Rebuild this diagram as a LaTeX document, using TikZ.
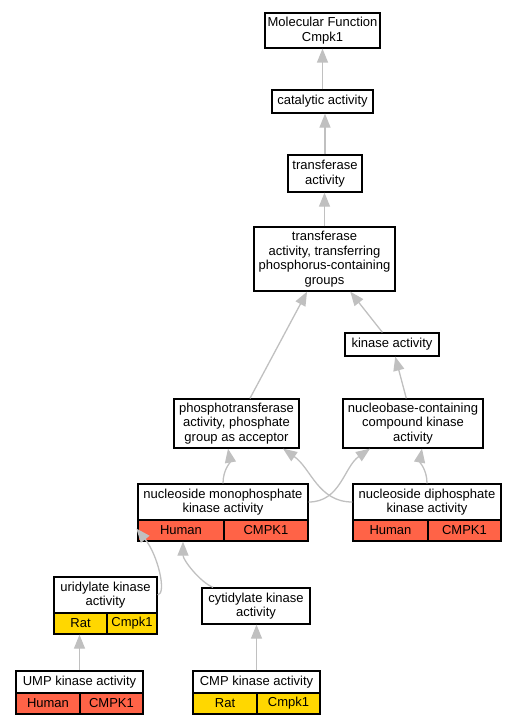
\documentclass[tikz,border=0pt]{standalone}
\usepackage{fontspec}
\setmainfont{Liberation Sans}
\usetikzlibrary{arrows.meta}

\definecolor{humanred}{RGB}{255,99,71}
\definecolor{ratgold}{RGB}{255,215,0}
\definecolor{edgegray}{RGB}{192,192,192}

\tikzset{
  term/.style={draw, fill=white, line width=1.3pt, align=center, inner sep=0pt,
    font=\fontsize{13}{14.5}\selectfont},
  cell/.style={term, minimum height=21pt},
  human/.style={cell, fill=humanred},
  rat/.style={cell, fill=ratgold},
  isa/.style={draw=edgegray, line width=1.3pt,
    -{Triangle[length=14pt,width=11pt,fill=edgegray]}}
}

\begin{document}
\begin{tikzpicture}[x=1pt,y=-1pt]
			\useasboundingbox (0,0) rectangle (516,725);

			% GO terms
			\node[term, minimum width=115pt, minimum height=35pt] (mf) at (322.5,30.5) {Molecular Function\\Cmpk1};
			\node[term, minimum width=101pt, minimum height=23pt] (cat) at (322.5,101.5) {catalytic activity};
			\node[term, minimum width=74pt, minimum height=37pt] (trans) at (325,173.5) {transferase\\activity};
			\node[term, minimum width=141pt, minimum height=64pt] (tpc) at (324.5,259) {transferase\\activity, transferring\\phosphorus-containing\\groups};
			\node[term, minimum width=94pt, minimum height=23pt] (kin) at (392,344.5) {kinase activity};
			\node[term, minimum width=125pt, minimum height=49pt] (pta) at (236.5,423.5) {phosphotransferase\\activity, phosphate\\group as acceptor};
			\node[term, minimum width=140pt, minimum height=49pt] (nbc) at (413,423.5) {nucleobase-containing\\compound kinase\\activity};
			\node[term, minimum width=108pt, minimum height=36pt] (cyt) at (256,606) {cytidylate kinase\\activity};

			% terms with gene products
			\node[term, minimum width=170pt, minimum height=36pt] (nmp) at (223,502) {nucleoside monophosphate\\kinase activity};
			\node[human, minimum width=86pt] (nmph) at (181,530.5) {Human};
			\node[human, minimum width=84pt] (nmpg) at (266,530.5) {CMPK1};

			\node[term, minimum width=148pt, minimum height=36pt] (ndp) at (427,502) {nucleoside diphosphate\\kinase activity};
			\node[human, minimum width=75pt] (ndph) at (390.5,530.5) {Human};
			\node[human, minimum width=73pt] (ndpg) at (464.5,530.5) {CMPK1};

			\node[term, minimum width=103pt, minimum height=36pt] (uri) at (105.5,595) {uridylate kinase\\activity};
			\node[rat, minimum width=53pt] (urir) at (80.5,623.5) {Rat};
			\node[rat, minimum width=50pt] (urig) at (132,623.5) {Cmpk1};

			\node[term, minimum width=127pt, minimum height=22pt] (ump) at (79.5,682) {UMP kinase activity};
			\node[human, minimum width=64pt] (umph) at (48,703.5) {Human};
			\node[human, minimum width=63pt] (umpg) at (111.5,703.5) {CMPK1};

			\node[term, minimum width=127pt, minimum height=22pt] (cmp) at (256.5,682) {CMP kinase activity};
			\node[rat, minimum width=64pt] (cmpr) at (225,703.5) {Rat};
			\node[rat, minimum width=63pt] (cmpg) at (288.5,703.5) {Cmpk1};

			% is_a edges
			\draw[isa] (cat) -- (mf);
			\draw[isa] (trans.north) -- (trans.north |- cat.south);
			\draw[isa] (tpc.north) -- (tpc.north |- trans.south);
			\draw[isa] (pta) -- (tpc);
			\draw[isa] (kin) -- (tpc);
			\draw[isa] (nbc) -- (kin);
			\draw[isa] (nmp.north) to[out=90, in=-80] ([xshift=-8.5pt]pta.south);
			\draw[isa] (ndp.north) to[out=90, in=-100] ([xshift=9pt]nbc.south);
			\draw[isa] (nmp.east) to[out=0, in=-145] ([xshift=-43pt]nbc.south);
			\draw[isa] (ndp.west) to[out=180, in=-35] ([xshift=46.5pt]pta.south);
			\draw[isa] (uri.east) .. controls (167,594) and (158,555) .. ([xshift=-1pt,yshift=2pt]nmph.west);
			\draw[isa] ([xshift=-43pt]cyt.north) .. controls (200,582) and (183,560) .. ([xshift=2pt]nmph.south);
			\draw[isa] (ump.north) -- (ump.north |- urir.south);
			\draw[isa] (cmp.north) -- (cmp.north |- cyt.south);
		\end{tikzpicture}
\end{document}
